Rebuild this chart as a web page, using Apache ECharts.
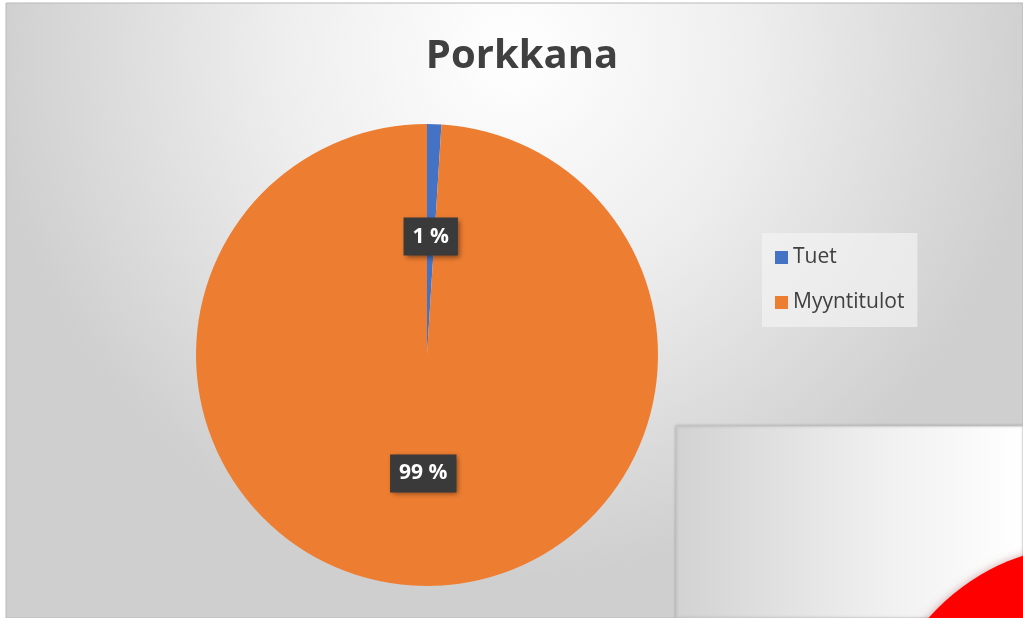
<!DOCTYPE html>
<html>
<head>
<meta charset="utf-8">
<script src="https://cdn.jsdelivr.net/npm/echarts@6/dist/echarts.min.js"></script>
<style>
  html, body { margin: 0; padding: 0; background: #ffffff; }
  #chart { width: 1023px; height: 618px; }
</style>
</head>
<body>
<div id="chart"></div>
<script>
// Chart data
const categories = ['Tuet', 'Myyntitulot'];
const values = [1, 99];
const colors = ['#4472C4', '#ED7D31'];
const chartTitle = 'Porkkana';

const chart = echarts.init(document.getElementById('chart'));

const option = {
  animation: false,
  backgroundColor: '#ffffff',
  graphic: [
    // main chart area background
    {
      type: 'rect',
      z: -10,
      silent: true,
      shape: { x: 6, y: 3, width: 1017, height: 615 },
      style: {
        fill: new echarts.graphic.RadialGradient(0.5, 0.08, 0.85, [
          { offset: 0, color: '#ffffff' },
          { offset: 0.45, color: '#eeeeee' },
          { offset: 1, color: '#cfcfcf' }
        ]),
        stroke: '#b8b8b8',
        lineWidth: 1
      }
    },
    // overlapping panel of another chart (bottom right)
    {
      type: 'rect',
      z: 100,
      silent: true,
      shape: { x: 676, y: 426, width: 347, height: 192 },
      style: {
        fill: new echarts.graphic.LinearGradient(0, 0, 1, 0, [
          { offset: 0, color: '#d2d2d2' },
          { offset: 0.6, color: '#f0f0f0' },
          { offset: 1, color: '#ffffff' }
        ]),
        stroke: '#c4c4c4',
        lineWidth: 1,
        shadowBlur: 3,
        shadowColor: 'rgba(0,0,0,0.2)'
      }
    },
    {
      type: 'circle',
      z: 101,
      silent: true,
      shape: { cx: 1090, cy: 760, r: 215 },
      style: {
        fill: '#ff0000',
        shadowBlur: 8,
        shadowColor: 'rgba(120,0,0,0.35)'
      }
    }
  ],
  title: {
    text: chartTitle,
    left: 517,
    top: 32,
    textAlign: 'center',
    textStyle: {
      fontFamily: 'Open Sans',
      fontSize: 40,
      fontWeight: 'bold',
      color: '#404040'
    }
  },
  legend: {
    orient: 'vertical',
    left: 762,
    top: 233,
    padding: [14, 13, 14, 13],
    itemGap: 24,
    itemWidth: 13,
    itemHeight: 13,
    icon: 'rect',
    backgroundColor: 'rgba(245,245,245,0.65)',
    data: categories,
    textStyle: {
      fontFamily: 'Open Sans',
      fontSize: 21,
      color: '#404040',
      padding: [0, 0, 0, 0]
    }
  },
  series: [
    {
      type: 'pie',
      center: [427, 355],
      radius: 231,
      startAngle: 90,
      clockwise: true,
      color: colors,
      emphasis: { disabled: true },
      labelLine: { show: false },
      label: {
        show: true,
        position: 'inside',
        formatter: p => Math.round(p.percent) + ' %',
        fontFamily: 'Open Sans',
        fontSize: 21,
        fontWeight: 'bold',
        color: '#ffffff',
        backgroundColor: '#3a3a3a',
        padding: [9, 9, 8, 9],
        shadowBlur: 5,
        shadowOffsetX: 2,
        shadowOffsetY: 2,
        shadowColor: 'rgba(0,0,0,0.45)'
      },
      data: categories.map((name, i) => ({ name: name, value: values[i] }))
    }
  ]
};

chart.setOption(option);
</script>
</body>
</html>
